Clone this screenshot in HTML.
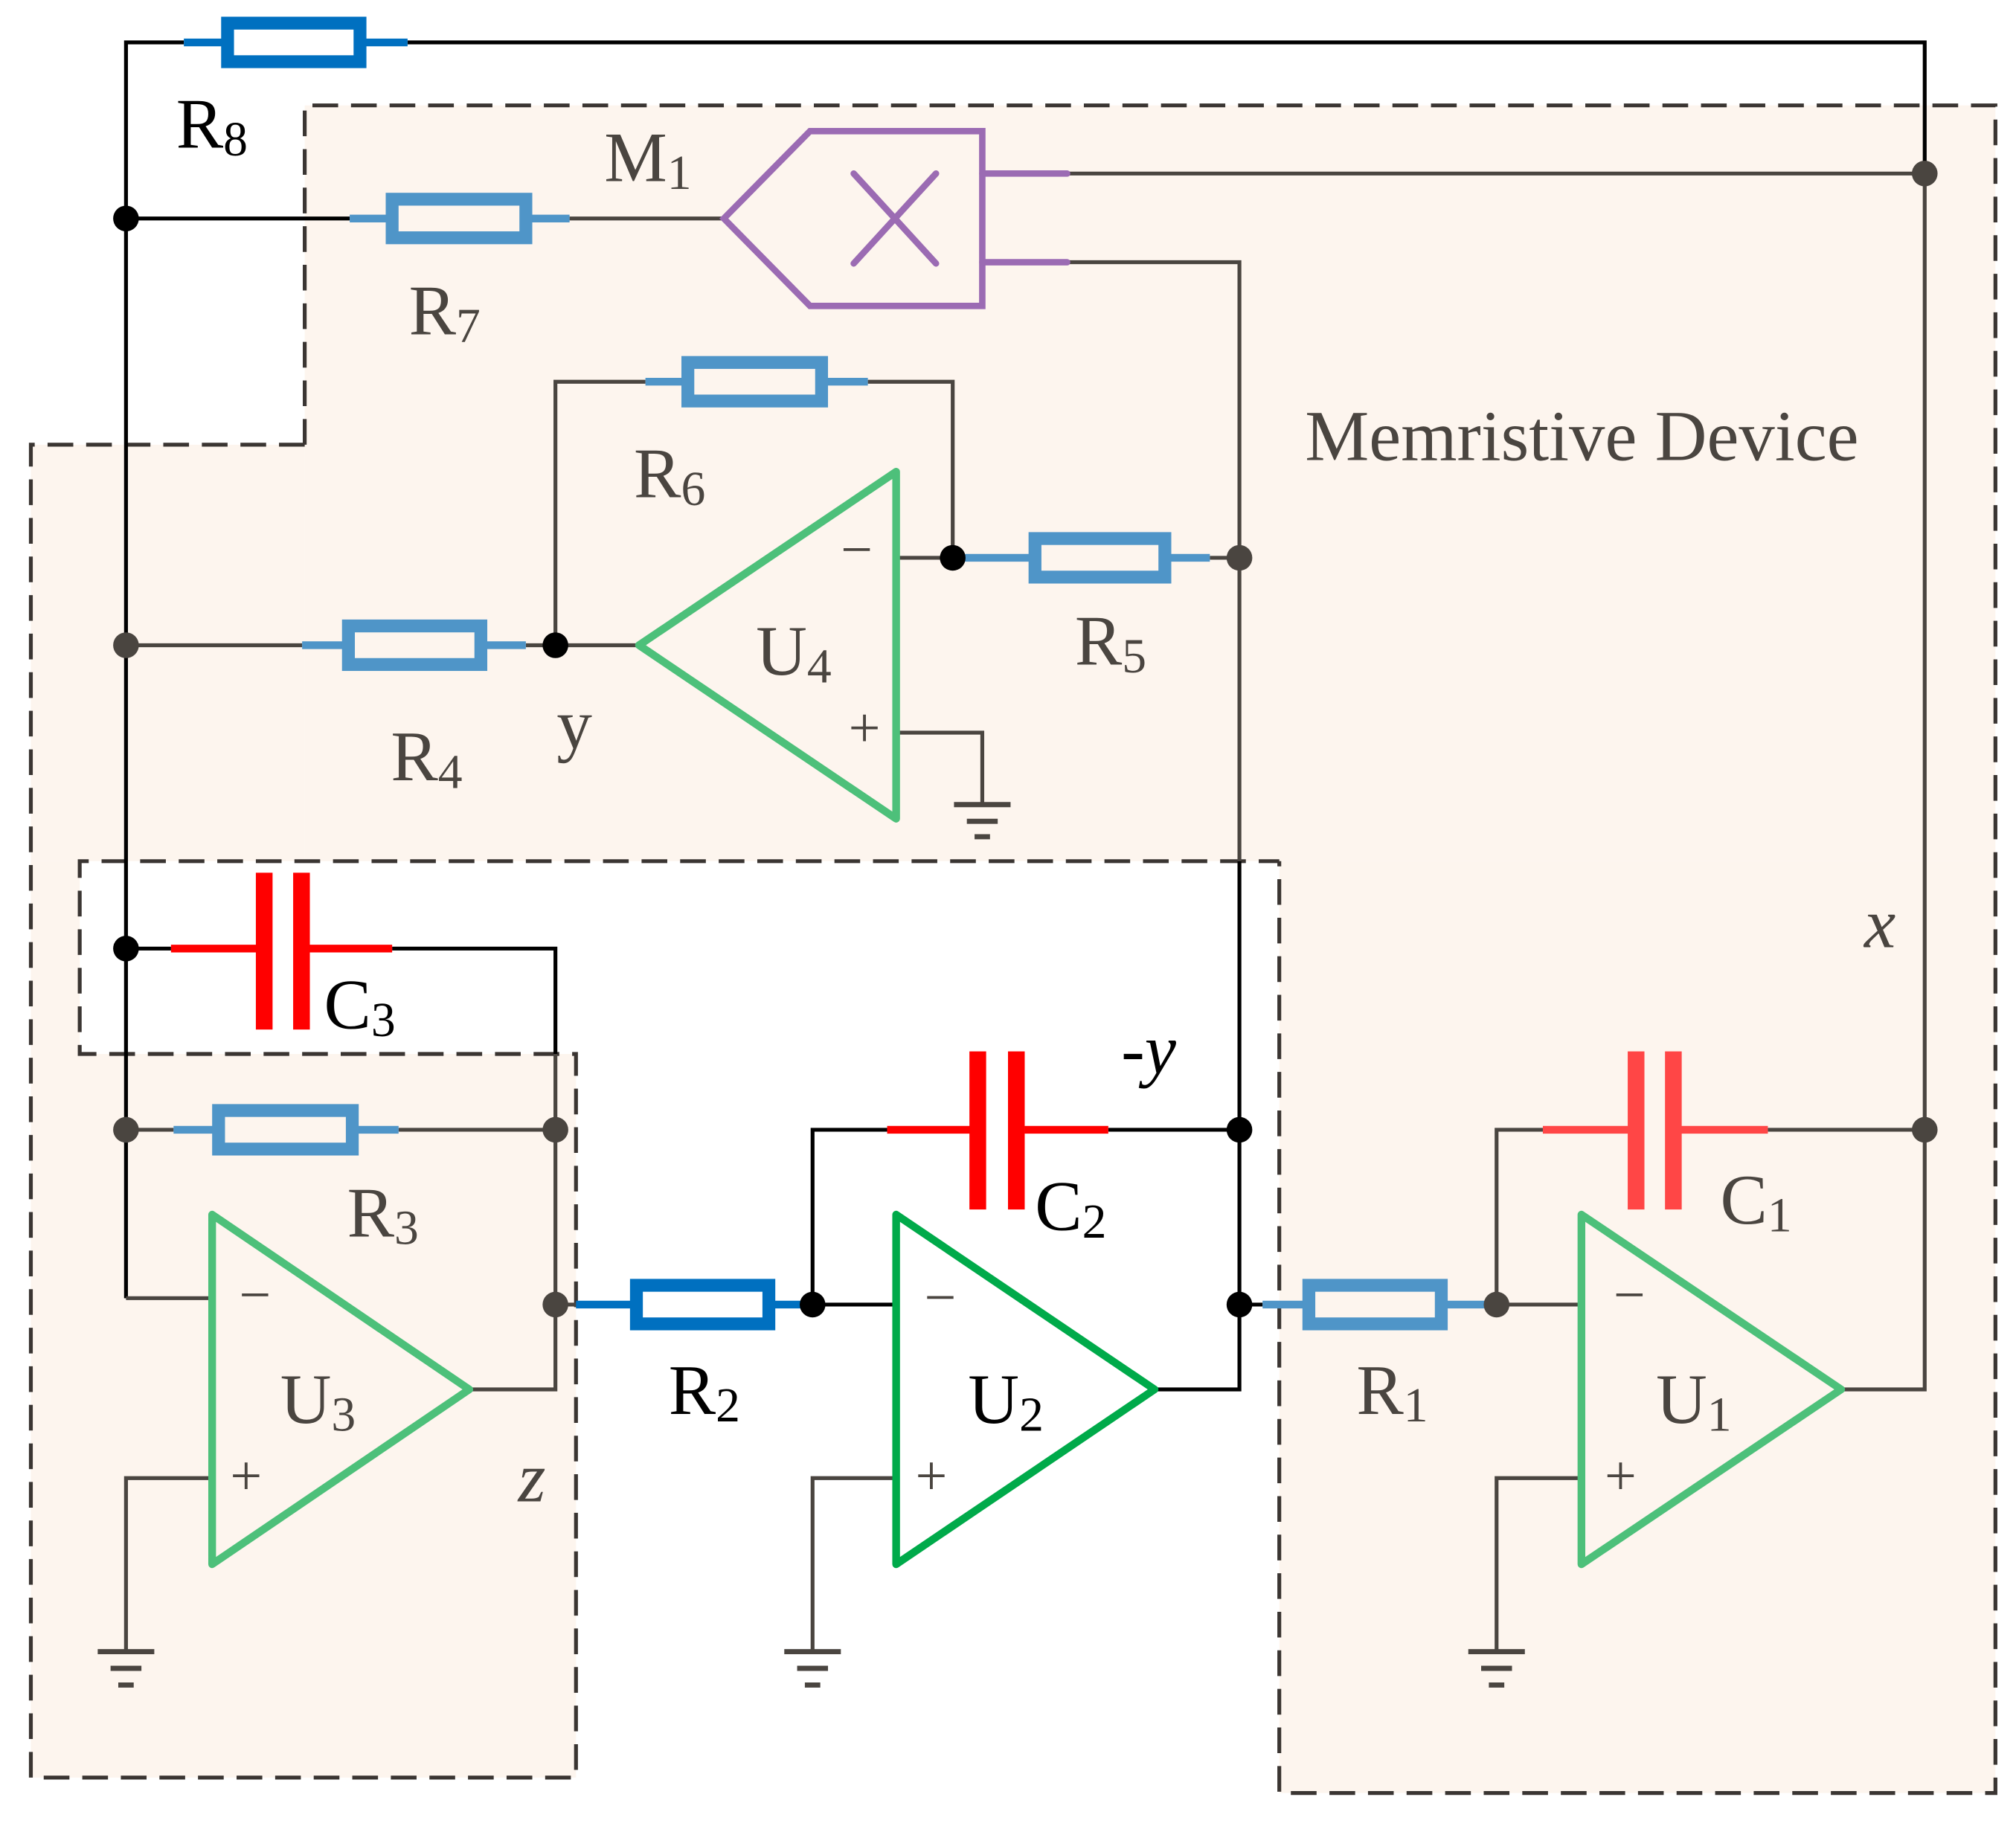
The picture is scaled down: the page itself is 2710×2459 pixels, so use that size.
<!DOCTYPE html>
<html><head><meta charset="utf-8"><style>
html,body{margin:0;padding:0;background:#fff;}
svg{display:block;}
text{font-family:"Liberation Serif",serif;}
</style></head><body>
<svg width="2710" height="2459" viewBox="0 0 1568 1423" preserveAspectRatio="none" xmlns="http://www.w3.org/2000/svg">
<g fill="#fdf5ee">
<path d="M237,82 H1552 V670 H237 Z"/>
<path d="M24,346 H237 V670 H24 Z"/>
<path d="M24,670 H62 V820 H24 Z"/>
<path d="M24,820 H448 V1383 H24 Z"/>
<path d="M995,670 H1552 V1395 H995 Z"/>
</g>
<g fill="none" stroke="#3a3532" stroke-width="3" stroke-dasharray="20,10">
<path d="M237,346 V82 H1552 V1395 H995 V670"/>
<path d="M237,346 H24 V1383 H448 V820 H62 V670 H995"/>
</g>
<g fill="none" stroke="#000" stroke-width="3">
<path d="M98,1010 V33 H143"/>
<path d="M317,33 H1497 V135"/>
<path d="M98,170 H272"/>
<path d="M98,738 H133"/>
<path d="M305,738 H432 V820"/>
<path d="M632,1015 V879 H690"/>
<path d="M862,879 H964"/>
<path d="M964,670 V1081 H898"/>
<path d="M632,1015 H697"/>
<path d="M964,1015 H982"/>
</g>
<g fill="none" stroke="#4a4540" stroke-width="3">
<path d="M443,170 H563"/>
<path d="M830,135 H1497 V1081 H1432"/>
<path d="M830,204 H964 V670"/>
<path d="M432,502 V297 H502"/>
<path d="M675,297 H741 V434 H697"/>
<path d="M941,434 H964"/>
<path d="M697,570 H764 V626"/>
<path d="M98,502 H235"/>
<path d="M409,502 H497"/>
<path d="M432,820 V1081 H365"/>
<path d="M98,1010 H165"/>
<path d="M165,1150 H98 V1285"/>
<path d="M432,1015 H448"/>
<path d="M697,1150 H632 V1285"/>
<path d="M1164,1015 V879 H1200"/>
<path d="M1375,879 H1497"/>
<path d="M1164,1015 H1230"/>
<path d="M1230,1150 H1164 V1285"/>
<path d="M98,879 H135"/>
<path d="M310,879 H432"/>
</g>
<g stroke="#4a4540" stroke-width="4">
<path d="M742,626 H786 M752,639 H776 M758,651 H770"/>
<path d="M76,1285 H120 M86,1298 H110 M92,1311 H104"/>
<path d="M610,1285 H654 M620,1298 H644 M626,1311 H638"/>
<path d="M1142,1285 H1186 M1152,1298 H1176 M1158,1311 H1170"/>
</g>
<g fill="none" stroke-width="10">
<g stroke="#0070c0"><path d="M143,33 H177 M280,33 H317" stroke-width="6"/><rect x="177" y="18" width="103" height="30"/></g>
<g stroke="#4f95c8"><path d="M272,170 H305 M409,170 H443" stroke-width="6"/><rect x="305" y="155" width="104" height="30"/></g>
<g stroke="#4f95c8"><path d="M502,297 H535 M639,297 H675" stroke-width="6"/><rect x="535" y="282" width="104" height="30"/></g>
<g stroke="#4f95c8"><path d="M741,434 H805 M906,434 H941" stroke-width="6"/><rect x="805" y="419" width="101" height="30"/></g>
<g stroke="#4f95c8"><path d="M235,502 H271 M374,502 H409" stroke-width="6"/><rect x="271" y="487" width="103" height="30"/></g>
<g stroke="#4f95c8"><path d="M135,879 H170 M274,879 H310" stroke-width="6"/><rect x="170" y="864" width="104" height="30"/></g>
<g stroke="#0070c0"><path d="M448,1015 H495 M598,1015 H637" stroke-width="6"/><rect x="495" y="1000" width="103" height="30"/></g>
<g stroke="#4f95c8"><path d="M982,1015 H1018 M1121,1015 H1160" stroke-width="6"/><rect x="1018" y="1000" width="103" height="30"/></g>
</g>
<g stroke="#ff0000" stroke-width="6"><path d="M133,738 H205 M237,738 H305"/></g>
<g fill="#ff0000"><rect x="199" y="679" width="13" height="122"/><rect x="228" y="679" width="13" height="122"/></g>
<g stroke="#ff0000" stroke-width="6"><path d="M690,879 H757 M797,879 H862"/></g>
<g fill="#ff0000"><rect x="754" y="818" width="13" height="123"/><rect x="784" y="818" width="13" height="123"/></g>
<g stroke="#ff4646" stroke-width="6"><path d="M1200,879 H1268 M1305,879 H1375"/></g>
<g fill="#ff4646"><rect x="1266" y="818" width="13" height="123"/><rect x="1295" y="818" width="13" height="123"/></g>
<g fill="none" stroke="#9b6bb3" stroke-width="5" stroke-linecap="round">
<path d="M563,170 L630,102 H764 V238 H630 Z"/>
<path d="M664,135 L728,205 M728,135 L664,205"/>
<path d="M764,135 H830 M764,204 H830"/>
</g>
<g fill="none" stroke-width="6" stroke-linejoin="round">
<path d="M497,502 L697,367 V637 Z" stroke="#4dc07a"/>
<path d="M165,945 V1217 L365,1081 Z" stroke="#4dc07a"/>
<path d="M697,945 V1217 L898,1081 Z" stroke="#00aa4a"/>
<path d="M1230,945 V1217 L1432,1081 Z" stroke="#4dc07a"/>
</g>
<g fill="#000">
<circle cx="98" cy="170" r="10"/><circle cx="98" cy="738" r="10"/>
<circle cx="432" cy="502" r="10"/><circle cx="741" cy="434" r="10"/>
<circle cx="632" cy="1015" r="10"/><circle cx="964" cy="879" r="10"/><circle cx="964" cy="1015" r="10"/>
</g>
<g fill="#4a4540">
<circle cx="98" cy="502" r="10"/><circle cx="98" cy="879" r="10"/><circle cx="432" cy="879" r="10"/>
<circle cx="432" cy="1015" r="10"/><circle cx="964" cy="434" r="10"/><circle cx="1497" cy="135" r="10"/>
<circle cx="1497" cy="879" r="10"/><circle cx="1164" cy="1015" r="10"/>
</g>
<g font-size="55" fill="#4a4540">
<text x="137" y="115" fill="#000">R<tspan font-size="38" dy="6">8</tspan></text>
<text x="470" y="141">M<tspan font-size="38" dy="6">1</tspan></text>
<text x="318" y="260">R<tspan font-size="38" dy="6">7</tspan></text>
<text x="493" y="387">R<tspan font-size="38" dy="6">6</tspan></text>
<text x="836" y="517">R<tspan font-size="38" dy="6">5</tspan></text>
<text x="304" y="607">R<tspan font-size="38" dy="6">4</tspan></text>
<text x="433" y="582">y</text>
<text x="588" y="525">U<tspan font-size="38" dy="6">4</tspan></text>
<text x="1015" y="358" font-size="56">Memristive Device</text>
<text x="252" y="800" fill="#000">C<tspan font-size="38" dy="6">3</tspan></text>
<text x="270" y="962">R<tspan font-size="38" dy="6">3</tspan></text>
<text x="218" y="1107">U<tspan font-size="38" dy="6">3</tspan></text>
<text x="403" y="1168" font-style="italic">z</text>
<text x="520" y="1100" fill="#000">R<tspan font-size="38" dy="6">2</tspan></text>
<text x="753" y="1107" fill="#000">U<tspan font-size="38" dy="6">2</tspan></text>
<text x="805" y="957" fill="#000">C<tspan font-size="38" dy="6">2</tspan></text>
<text x="872" y="835" fill="#000" font-style="italic">-y</text>
<text x="1055" y="1100">R<tspan font-size="38" dy="6">1</tspan></text>
<text x="1288" y="1107">U<tspan font-size="38" dy="6">1</tspan></text>
<text x="1338" y="952">C<tspan font-size="38" dy="6">1</tspan></text>
<text x="1450" y="737" font-style="italic">x</text>
</g>
<g font-size="44" fill="#4a4540">
<text x="654" y="442">−</text><text x="660" y="581">+</text>
<text x="186" y="1022">−</text><text x="179" y="1163">+</text>
<text x="719" y="1024">−</text><text x="712" y="1163">+</text>
<text x="1255" y="1022">−</text><text x="1248" y="1163">+</text>
</g>
</svg>
</body></html>
